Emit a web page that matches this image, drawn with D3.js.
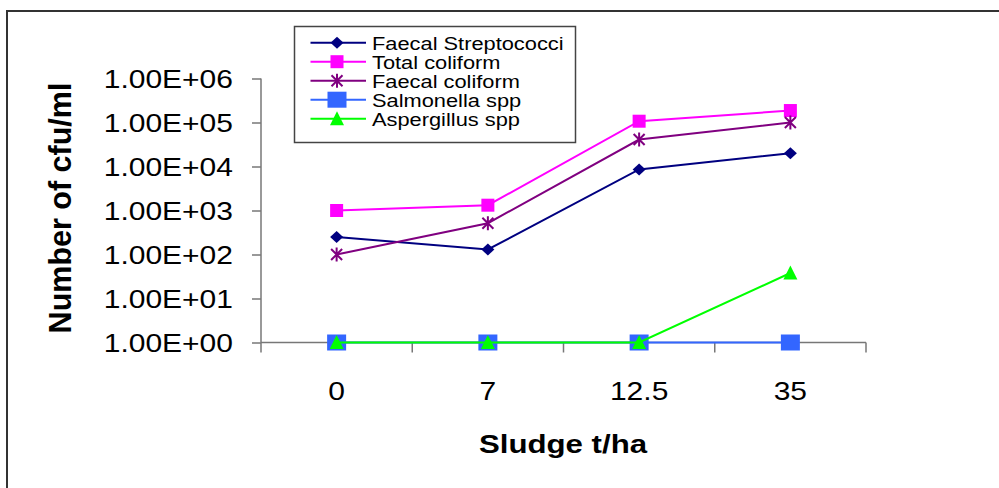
<!DOCTYPE html>
<html>
<head>
<meta charset="utf-8">
<script src="https://cdn.jsdelivr.net/npm/d3@7/dist/d3.min.js"></script>
<style>
  html, body { margin: 0; padding: 0; background: #fff; }
  svg { display: block; font-family: "Liberation Sans", Arial, sans-serif; }
</style>
</head>
<body>
<svg id="chart" width="999" height="488"></svg>
<script>
// Sludge application rates (t/ha)
const categories = ["0", "7", "12.5", "35"];

// Counts in cfu/ml per organism
const faecalStreptococci = [250, 130, 8600, 20000];
const totalColiform = [1000, 1320, 107000, 187000];
const faecalColiform = [100, 515, 41000, 100000];
const salmonella = [1, 1, 1, 1];
const aspergillus = [1, 1, 1, 38];

const yTickValues = [1, 10, 100, 1000, 10000, 100000, 1000000];
const yTickLabels = ["1.00E+00", "1.00E+01", "1.00E+02", "1.00E+03", "1.00E+04", "1.00E+05", "1.00E+06"];

const seriesNames = ["Faecal Streptococci", "Total coliform", "Faecal coliform", "Salmonella spp", "Aspergillus spp"];

const series = [
  { name: seriesNames[0], values: faecalStreptococci, color: "#000080", marker: "diamond" },
  { name: seriesNames[1], values: totalColiform, color: "#FF00FF", marker: "square" },
  { name: seriesNames[2], values: faecalColiform, color: "#800080", marker: "star" },
  { name: seriesNames[3], values: salmonella, color: "#3366FF", marker: "bigsquare" },
  { name: seriesNames[4], values: aspergillus, color: "#00FF00", marker: "triangle" }
];

const svg = d3.select("#chart");
const TEXT_SX = 1.2; // horizontal widening of the chart lettering

// outer chart frame
svg.append("rect")
  .attr("x", 7).attr("y", 11)
  .attr("width", 1100).attr("height", 600)
  .attr("fill", "none")
  .attr("stroke", "#333").attr("stroke-width", 2);

const plot = { left: 261, right: 866, top: 78.5, bottom: 342.5 };

const x = d3.scaleBand().domain(categories).range([plot.left, plot.right]);
const y = d3.scaleLog().domain([1, 1e6]).range([plot.bottom, plot.top]);
const cx = c => x(c) + x.bandwidth() / 2;

// stretched text helper
function label(g, tx, ty, text, opts) {
  const t = g.append("text")
    .attr("transform", `translate(${tx},${ty}) scale(${opts.sx || TEXT_SX},1)`)
    .attr("font-size", opts.size)
    .attr("font-weight", opts.weight || "normal")
    .attr("text-anchor", opts.anchor || "start")
    .attr("fill", "#000")
    .text(text);
  return t;
}

// y axis
const yAxis = svg.append("g")
  .attr("transform", `translate(${plot.left},0)`)
  .call(d3.axisLeft(y).tickValues(yTickValues).tickSize(9).tickFormat(""));
yAxis.select(".domain").attr("stroke", "#777").attr("stroke-width", 1.5)
  .attr("d", `M0,${plot.top}V${plot.bottom}`);
yAxis.selectAll(".tick line").attr("stroke", "#777").attr("stroke-width", 1.5);

yTickValues.forEach((v, i) => {
  label(svg, 233, y(v) + 9, yTickLabels[i], { size: 25, anchor: "end" });
});

// x axis with ticks between categories
const xAxis = svg.append("g").attr("transform", `translate(0,${plot.bottom})`);
xAxis.append("line")
  .attr("x1", plot.left).attr("x2", plot.right)
  .attr("stroke", "#777").attr("stroke-width", 1.5);
const boundaries = categories.map(c => x(c)).concat([x(categories[categories.length - 1]) + x.bandwidth()]);
xAxis.selectAll("line.tick").data(boundaries).enter().append("line")
  .attr("class", "tick")
  .attr("x1", d => d).attr("x2", d => d)
  .attr("y1", 0).attr("y2", 10)
  .attr("stroke", "#777").attr("stroke-width", 1.5);

categories.forEach(c => {
  label(svg, cx(c), 400, c, { size: 25, anchor: "middle" });
});

// axis titles
label(svg, 563, 453, "Sludge t/ha", { size: 26, weight: "bold", anchor: "middle" });
svg.append("text")
  .attr("transform", `translate(71,208) rotate(-90)`)
  .attr("font-size", 30.5).attr("font-weight", "bold")
  .attr("text-anchor", "middle")
  .text("Number of cfu/ml");

// markers
function drawMarker(g, type, px, py, color) {
  switch (type) {
    case "diamond":
      g.append("path").attr("d", `M${px},${py - 6}L${px + 6.5},${py}L${px},${py + 6}L${px - 6.5},${py}Z`).attr("fill", color);
      break;
    case "square":
      g.append("rect").attr("x", px - 6.5).attr("y", py - 6.5).attr("width", 13).attr("height", 13).attr("fill", color);
      break;
    case "bigsquare":
      g.append("rect").attr("x", px - 9.5).attr("y", py - 8).attr("width", 19).attr("height", 16).attr("fill", color);
      break;
    case "triangle":
      g.append("path").attr("d", `M${px},${py - 7.5}L${px + 7},${py + 6.5}L${px - 7},${py + 6.5}Z`).attr("fill", color);
      break;
    case "star":
      g.append("path")
        .attr("d", `M${px - 5.5},${py - 5.5}L${px + 5.5},${py + 5.5}M${px + 5.5},${py - 5.5}L${px - 5.5},${py + 5.5}M${px},${py - 7}L${px},${py + 7}`)
        .attr("stroke", color).attr("stroke-width", 2).attr("fill", "none");
      break;
  }
}

const line = d3.line().x(d => cx(d.c)).y(d => y(d.v));

series.forEach(s => {
  const pts = categories.map((c, i) => ({ c, v: s.values[i] }));
  const g = svg.append("g");
  g.append("path").datum(pts)
    .attr("d", line)
    .attr("fill", "none")
    .attr("stroke", s.color)
    .attr("stroke-width", 2);
  pts.forEach(p => drawMarker(g, s.marker, cx(p.c), y(p.v), s.color));
});

// legend
const legend = svg.append("g");
legend.append("rect")
  .attr("x", 294.5).attr("y", 26.5)
  .attr("width", 281).attr("height", 116)
  .attr("fill", "#fff")
  .attr("stroke", "#444").attr("stroke-width", 1.5);

series.forEach((s, i) => {
  const ly = 42.7 + i * 19;
  legend.append("line")
    .attr("x1", 310.5).attr("x2", 366)
    .attr("y1", ly).attr("y2", ly)
    .attr("stroke", s.color).attr("stroke-width", 2);
  drawMarker(legend, s.marker, 337, ly, s.color);
  label(legend, 372, ly + 6.8, s.name, { size: 18.5, sx: 1.18 });
});
</script>
</body>
</html>
